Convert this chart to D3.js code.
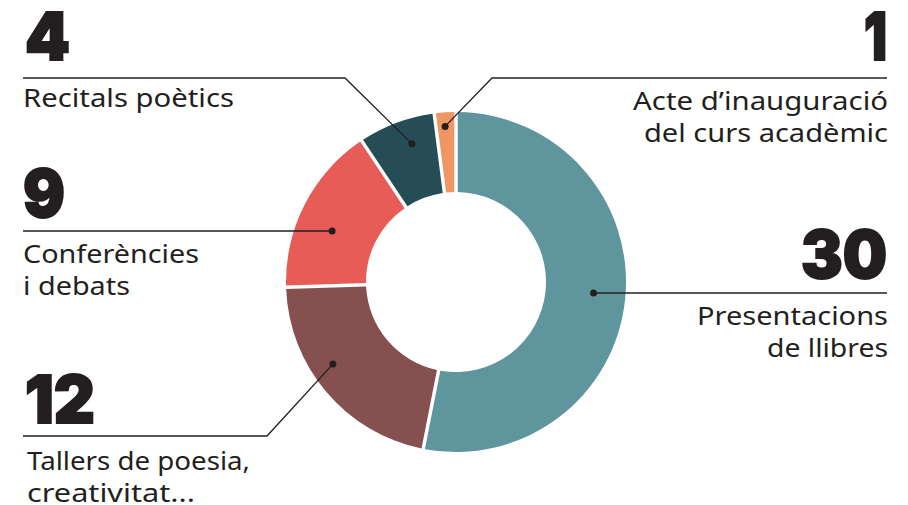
<!DOCTYPE html>
<html>
<head>
<meta charset="utf-8">
<script src="https://cdn.jsdelivr.net/npm/d3@7"></script>
<style>
  html, body { margin: 0; padding: 0; background: #ffffff; }
  svg { display: block; }
</style>
</head>
<body>
<svg id="chart" width="908" height="505"></svg>
<script>
// ---- data ----
const categories = ["Presentacions de llibres", "Tallers de poesia, creativitat...", "Conferències i debats", "Recitals poètics", "Acte d’inauguració del curs acadèmic"];
const values = [30, 12, 9, 4, 1];
const colors = ["#5f969e", "#865050", "#e85c57", "#264d56", "#f09662"];
const labelLines = [
  ["Presentacions", "de llibres"],
  ["Tallers de poesia,", "creativitat..."],
  ["Conferències", "i debats"],
  ["Recitals poètics"],
  ["Acte d’inauguració", "del curs acadèmic"]
];

// ---- layout (not data) ----
const W = 908, H = 505;
const cx = 456, cy = 282, rOuter = 170, rInner = 90;
const callouts = [
  { dotR: 138, dotDeg: 94.6,  lineY: 293, elbowX: null, endX: 887, side: "right", numX: 887, numY: 278, numW: 88, labY: 325, labX: 888, labW: [191, 121] },
  { dotR: 148, dotDeg: 236.3, lineY: 436, elbowX: 267,  endX: 23,  side: "left",  numX: 25,  numY: 423, numW: 72, labY: 470, labX: 27,  labW: [223, 168] },
  { dotR: 134, dotDeg: 292.4, lineY: 231, elbowX: null, endX: 23,  side: "left",  numX: 23,  numY: 217, numW: 44, labY: 263, labX: 23,  labW: [176, 107] },
  { dotR: 145, dotDeg: 342.3, lineY: 78,  elbowX: 345,  endX: 23,  side: "left",  numX: 25,  numY: 60,  numW: 47, labY: 107, labX: 23,  labW: [211] },
  { dotR: 156, dotDeg: 356.0, lineY: 78,  elbowX: 492,  endX: 887, side: "right", numX: 887, numY: 60,  numW: 25, labY: 110, labX: 888, labW: [255, 244] }
];

const svg = d3.select("#chart");
const g = svg.append("g").attr("transform", `translate(${cx},${cy})`);

const pie = d3.pie().sort(null).value(d => d).startAngle(0).endAngle(2 * Math.PI).padAngle(0.018);
const arcs = pie(values);
const arc = d3.arc().innerRadius(rInner).outerRadius(rOuter);

g.selectAll("path.slice")
  .data(arcs)
  .join("path")
  .attr("class", "slice")
  .attr("d", arc)
  .attr("fill", (d, i) => colors[i]);

const ink = "#231f20";
const fontLabel = "'Noto Sans', 'Open Sans', sans-serif";
const fontNum = "Inter, Lato, 'Noto Sans', sans-serif";

arcs.forEach((a, i) => {
  const c = callouts[i];
  const ang = c.dotDeg * Math.PI / 180;
  const dx = cx + c.dotR * Math.sin(ang);
  const dy = cy - c.dotR * Math.cos(ang);
  const pts = [[dx, dy]];
  if (c.elbowX !== null) pts.push([c.elbowX, c.lineY]);
  else pts[0] = [dx, c.lineY];
  pts.push([c.endX, c.lineY]);

  svg.append("path")
    .attr("d", d3.line()(pts))
    .attr("fill", "none")
    .attr("stroke", ink)
    .attr("stroke-width", 1.3);

  svg.append("circle")
    .attr("cx", pts[0][0]).attr("cy", pts[0][1]).attr("r", 3.5)
    .attr("fill", ink);

  const right = c.side === "right";
  svg.append("text")
    .attr("x", c.numX)
    .attr("y", c.numY)
    .attr("text-anchor", right ? "end" : "start")
    .attr("font-family", fontNum)
    .attr("font-weight", 900)
    .attr("font-size", 66)
    .attr("fill", ink)
    .attr("stroke", ink)
    .attr("stroke-width", 2)
    .attr("stroke-linejoin", "miter")
    .attr("textLength", c.numW - 2)
    .attr("lengthAdjust", "spacingAndGlyphs")
    .text(values[i]);

  labelLines[i].forEach((line, k) => {
    svg.append("text")
      .attr("x", c.labX)
      .attr("y", c.labY + k * 31.5)
      .attr("text-anchor", right ? "end" : "start")
      .attr("font-family", fontLabel)
      .attr("font-size", 25)
      .attr("fill", ink)
      .attr("textLength", c.labW[k])
      .attr("lengthAdjust", "spacingAndGlyphs")
      .text(line);
  });
});
</script>
</body>
</html>
